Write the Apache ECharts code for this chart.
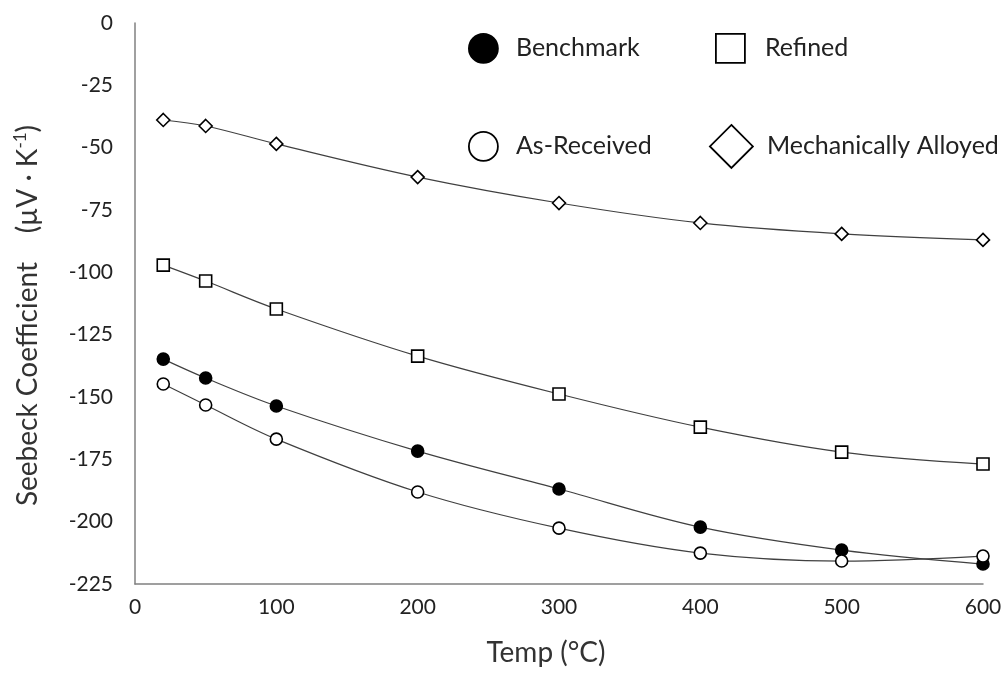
<!DOCTYPE html>
<html><head><meta charset="utf-8">
<script src="https://cdn.jsdelivr.net/npm/echarts@6/dist/echarts.min.js"></script>
<style>html,body{margin:0;padding:0;background:#fff}#c{width:1005px;height:690px}</style>
</head><body><div id="c"></div>
<script>
const temps = [20, 50, 100, 200, 300, 400, 500, 600];
const benchmark = [-134.8, -142.4, -153.6, -171.7, -186.9, -202.2, -211.4, -217.0];
const asReceived = [-144.8, -153.2, -166.9, -188.1, -202.6, -212.6, -215.8, -213.8];
const refined = [-97.1, -103.5, -114.7, -133.6, -148.8, -162.1, -172.1, -176.9];
const mechAlloyed = [-38.9, -41.3, -48.5, -61.8, -72.2, -80.2, -84.6, -87.0];
const xTicks = [0, 100, 200, 300, 400, 500, 600];
const yTicks = [0, -25, -50, -75, -100, -125, -150, -175, -200, -225];

const FONT = "Lato, 'Open Sans', sans-serif";
const pts = arr => temps.map((t, i) => [t, arr[i]]);

function mkSeries(name, data, symbol, size, fill) {
  return {
    name, type: 'line', data: pts(data), smooth: 0.35,
    symbol, symbolSize: size, showSymbol: true,
    lineStyle: { color: '#404040', width: 1.2 },
    itemStyle: { color: fill, borderColor: '#000', borderWidth: 1.6 },
    emphasis: { disabled: true }, z: 3
  };
}
function mkLegend(name, icon, fill, left, top, size, gap) {
  return {
    data: [{ name, icon, itemStyle: { color: fill, borderColor: '#000', borderWidth: 1.8 } }],
    left, top, padding: 0, itemWidth: size, itemHeight: size, itemGap: 10,
    textStyle: { fontFamily: FONT, fontSize: 25, color: '#222', padding: [0, 0, 0, gap] },
    selectedMode: false
  };
}

const chart = echarts.init(document.getElementById('c'));
chart.setOption({
  animation: false,
  backgroundColor: '#fff',
  grid: { left: 135, right: 22, top: 23, bottom: 106 },
  legend: [
    mkLegend('Benchmark', 'circle', '#000', 468, 33, 29, 13),
    mkLegend('Refined', 'rect', '#fff', 715, 33, 29, 15),
    mkLegend('As-Received', 'circle', '#fff', 468, 131, 29, 13),
    mkLegend('Mechanically Alloyed', 'diamond', '#fff', 709, 124, 43, 9)
  ],
  xAxis: {
    type: 'value', min: 0, max: 600, interval: 100,
    name: 'Temp (°C)', nameLocation: 'middle', nameGap: 55,
    nameTextStyle: { fontFamily: FONT, fontSize: 28, color: '#333', padding: [0, 26, 0, 0] },
    axisLine: { show: true, onZero: false, lineStyle: { color: '#808080', width: 1.5 } },
    axisTick: { show: false }, splitLine: { show: false },
    axisLabel: { fontFamily: FONT, fontSize: 21, color: '#222', margin: 13,
      formatter: v => xTicks.includes(v) ? String(v) : '' }
  },
  yAxis: {
    type: 'value', min: -225, max: 0, interval: 25,
    name: 'Seebeck Coefficient    (µV · K{sup|-1})', nameLocation: 'middle', nameGap: 92,
    nameRotate: 90,
    nameTextStyle: { fontFamily: FONT, fontSize: 28, color: '#333', padding: [0, 24, 0, 0],
      rich: { sup: { fontFamily: FONT, fontSize: 17, color: '#333', verticalAlign: 'top', padding: [0, 0, 14, 0] } } },
    axisLine: { show: true, onZero: false, lineStyle: { color: '#808080', width: 1.5 } },
    axisTick: { show: false }, splitLine: { show: false },
    axisLabel: { fontFamily: FONT, fontSize: 21, color: '#222', margin: 22,
      formatter: v => yTicks.includes(v) ? String(v) : '' }
  },
  series: [
    mkSeries('Benchmark', benchmark, 'circle', 12, '#000'),
    mkSeries('Refined', refined, 'rect', 12, '#fff'),
    mkSeries('As-Received', asReceived, 'circle', 12, '#fff'),
    mkSeries('Mechanically Alloyed', mechAlloyed, 'diamond', 13, '#fff')
  ]
});
</script></body></html>
